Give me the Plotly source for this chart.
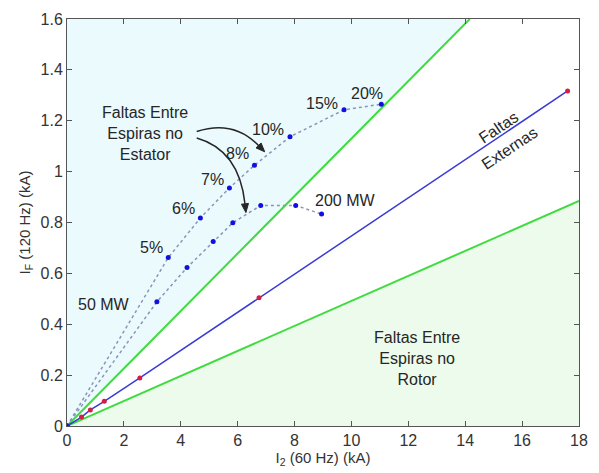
import math
import plotly.graph_objects as go

# Stator inter-turn faults: fault percentage sweep (kA)
pct_labels = ["5%", "6%", "7%", "8%", "10%", "15%", "20%"]
stator_pct_i2 = [0, 3.56, 4.69, 5.71, 6.59, 7.84, 9.74, 11.05]
stator_pct_if = [0, 0.662, 0.818, 0.936, 1.025, 1.137, 1.243, 1.265]

# Stator inter-turn faults: load sweep from 50 MW to 200 MW (kA)
stator_load_i2 = [0, 3.16, 4.22, 5.14, 5.83, 6.81, 8.04, 8.95]
stator_load_if = [0, 0.488, 0.623, 0.725, 0.799, 0.867, 0.867, 0.833]

# External faults (kA)
ext_i2 = [0, 0.51, 0.82, 1.31, 2.56, 6.75, 17.6]
ext_if = [0, 0.035, 0.063, 0.097, 0.189, 0.504, 1.317]

# Region boundaries (kA)
upper_bound_i2 = [0, 14.16]
upper_bound_if = [0, 1.6]
lower_bound_i2 = [0, 18]
lower_bound_if = [0, 0.885]

x_ticks = list(range(0, 19, 2))
y_ticks = [0, 0.2, 0.4, 0.6, 0.8, 1, 1.2, 1.4, 1.6]
y_tick_text = ["0", "0.2", "0.4", "0.6", "0.8", "1", "1.2", "1.4", "1.6"]

FONT = "Liberation Sans, Arial, sans-serif"
TXT = "#262626"

W, H = 599, 473
MARGIN = dict(l=67, r=11, t=15, b=44)
X_RANGE = [0, 18]
Y_RANGE = [0, 1.6]
# pixels per data unit, used to shape arrowheads
PX_X = (W - MARGIN["l"] - MARGIN["r"]) / (X_RANGE[1] - X_RANGE[0])
PX_Y = (H - MARGIN["t"] - MARGIN["b"]) / (Y_RANGE[1] - Y_RANGE[0])

fig = go.Figure()

# shaded regions
fig.add_trace(go.Scatter(
    x=upper_bound_i2 + [0], y=upper_bound_if + [upper_bound_if[-1]],
    fill="toself", fillcolor="#eafafd", mode="none", hoverinfo="skip"))
fig.add_trace(go.Scatter(
    x=lower_bound_i2 + [lower_bound_i2[-1]], y=lower_bound_if + [0],
    fill="toself", fillcolor="#edfbec", mode="none", hoverinfo="skip"))

# boundary lines
for bx, by in [(upper_bound_i2, upper_bound_if), (lower_bound_i2, lower_bound_if)]:
    fig.add_trace(go.Scatter(x=bx, y=by, mode="lines",
                             line=dict(color="#3fdc3f", width=2)))

# external faults
fig.add_trace(go.Scatter(x=ext_i2, y=ext_if, mode="lines+markers",
                         line=dict(color="#3a3ad6", width=1.5),
                         marker=dict(color="#d0204a", size=5)))

# stator fault sweeps
for sx, sy in [(stator_pct_i2, stator_pct_if), (stator_load_i2, stator_load_if)]:
    fig.add_trace(go.Scatter(x=sx, y=sy, mode="lines+markers",
                             line=dict(color="#8e93b8", width=1.5, dash="dot"),
                             marker=dict(color="#1010e0", size=5)))

annotations = []

def label(x, y, text, size=16, angle=0):
    annotations.append(dict(x=x, y=y, xref="x", yref="y", text=text, showarrow=False,
                            font=dict(family=FONT, size=size, color=TXT),
                            textangle=angle, align="center"))

# percentage labels placed beside their points
pct_offsets = [(-0.59, 0.041), (-0.61, 0.036), (-0.60, 0.034), (-0.61, 0.045),
               (-0.79, 0.030), (-0.77, 0.026), (-0.52, 0.042)]
for lab, px, py, (dx, dy) in zip(pct_labels, stator_pct_i2[1:], stator_pct_if[1:], pct_offsets):
    label(px + dx, py + dy, lab)

label(stator_load_i2[1] - 1.85, stator_load_if[1] - 0.011, "50 MW")
label(stator_load_i2[-1] + 0.83, stator_load_if[-1] + 0.052, "200 MW")
label(2.73, 1.148, "Faltas Entre<br>Espiras no<br>Estator")
label(12.31, 0.267, "Faltas Entre<br>Espiras no<br>Rotor")
# two words set along the external-fault line, one on each side
label(15.17, 1.172, "Faltas", angle=-33.7)
label(15.54, 1.091, "Externas", angle=-33.7)

# curved arrows pointing from the stator label to the two sweeps
arrows = [
    # start, control, tip
    ((4.56, 1.158), (5.85, 1.205), (6.95, 1.078)),
    ((4.56, 1.132), (6.05, 1.085), (6.29, 0.839)),
]
HEAD_LEN, HEAD_HALF = 9.0, 3.6  # pixels
shapes = []
for (sx, sy), (cx, cy), (tx, ty) in arrows:
    # direction of the curve at its tip, in pixel space
    dx, dy = (tx - cx) * PX_X, (ty - cy) * PX_Y
    n = math.hypot(dx, dy)
    ux, uy = dx / n, dy / n
    bx, by = -ux * HEAD_LEN, -uy * HEAD_LEN
    px_, py_ = -uy * HEAD_HALF, ux * HEAD_HALF
    base = (tx + bx / PX_X, ty + by / PX_Y)
    left = (base[0] + px_ / PX_X, base[1] + py_ / PX_Y)
    right = (base[0] - px_ / PX_X, base[1] - py_ / PX_Y)
    shapes.append(dict(type="path", xref="x", yref="y",
                       path=f"M {sx},{sy} Q {cx},{cy} {base[0]},{base[1]}",
                       line=dict(color="#262626", width=1.5)))
    shapes.append(dict(type="path", xref="x", yref="y",
                       path=f"M {tx},{ty} L {left[0]},{left[1]} L {right[0]},{right[1]} Z",
                       fillcolor="#262626", line=dict(color="#262626", width=1)))

axis_common = dict(showgrid=False, zeroline=False, showline=True, mirror="ticks",
                   linecolor="#555555", linewidth=1, ticks="inside", ticklen=5,
                   tickcolor="#555555",
                   tickfont=dict(family=FONT, size=16, color="#333333"))

fig.update_layout(
    width=W, height=H,
    margin=MARGIN,
    paper_bgcolor="white", plot_bgcolor="white",
    showlegend=False,
    shapes=shapes,
    annotations=annotations,
    xaxis=dict(range=X_RANGE, tickvals=x_ticks,
               title=dict(text="I<sub>2</sub> (60 Hz) (kA)", standoff=2,
                          font=dict(family=FONT, size=15, color="#333333")),
               **axis_common),
    yaxis=dict(range=Y_RANGE, tickvals=y_ticks, ticktext=y_tick_text,
               title=dict(text="I<sub>F</sub> (120 Hz) (kA)", standoff=6,
                          font=dict(family=FONT, size=15, color="#333333")),
               **axis_common),
)

fig.write_html("out.html")
